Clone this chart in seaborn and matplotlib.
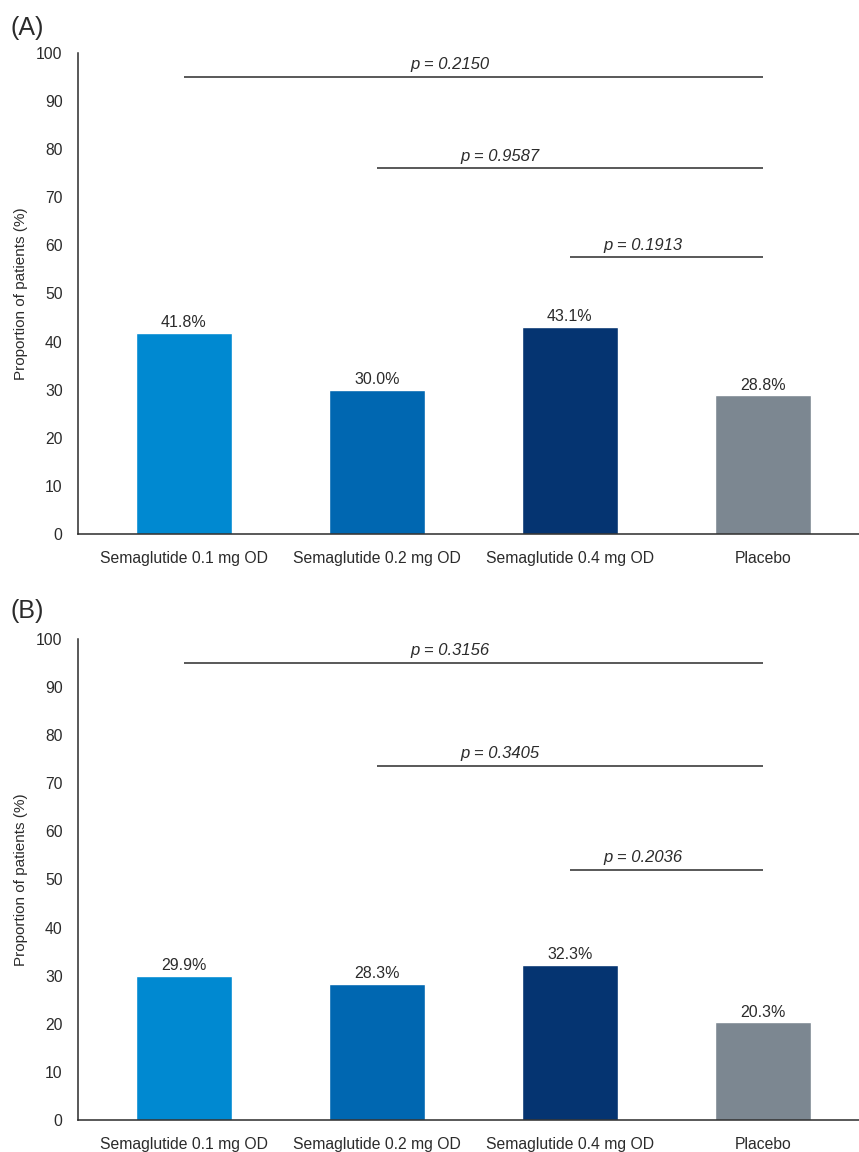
import matplotlib
matplotlib.use("Agg")
import matplotlib.pyplot as plt
import seaborn as sns

# Treatment arms and responder proportions (%)
categories = ["Semaglutide 0.1 mg OD", "Semaglutide 0.2 mg OD",
              "Semaglutide 0.4 mg OD", "Placebo"]
values_a = [41.8, 30.0, 43.1, 28.8]
values_b = [29.9, 28.3, 32.3, 20.3]

# Pairwise comparisons vs placebo: (start arm index, bracket height, p-value)
pvals_a = [(0, 95.0, "0.2150"), (1, 76.0, "0.9587"), (2, 57.5, "0.1913")]
pvals_b = [(0, 95.0, "0.3156"), (1, 73.6, "0.3405"), (2, 52.0, "0.2036")]

panel_labels = ["(A)", "(B)"]
bar_colors = ["#0089D1", "#0067B1", "#053471", "#7C8791"]
y_ticks = list(range(0, 101, 10))

# horizontal centre of each p-value caption, in category units
p_text_x = [1.38, 1.64, 2.38]

sns.set_style("white")
plt.rcParams["font.family"] = ["Liberation Sans", "DejaVu Sans"]

fig = plt.figure(figsize=(8.59, 11.52), dpi=100)
axes_pos = [[0.0908, 0.5365, 0.9092, 0.4175],
            [0.0908, 0.0278, 0.9092, 0.4175]]
label_y = [0.976, 0.470]

ink = "#2b2b2b"

for pos, vals, pvals, lab, ly in zip(axes_pos, [values_a, values_b],
                                     [pvals_a, pvals_b], panel_labels, label_y):
    ax = fig.add_axes(pos)
    sns.barplot(x=categories, y=vals, hue=categories, palette=bar_colors,
                legend=False, width=0.5, saturation=1, ax=ax)

    for cont, v in zip(ax.containers, vals):
        ax.bar_label(cont, labels=[f"{v:.1f}%"], padding=2, fontsize=11.5,
                     color=ink)

    for (start, h, p), tx in zip(pvals, p_text_x):
        ax.plot([start, 3], [h, h], color=ink, lw=1.1, solid_capstyle="butt")
        ax.text(tx, h + 1.6, f"p = {p}", ha="center", va="baseline",
                fontsize=12, style="italic", color=ink)

    ax.set_xlim(-0.549, 3.498)
    ax.set_ylim(0, 100)
    ax.set_yticks(y_ticks)
    ax.set_ylabel("Proportion of patients (%)", fontsize=11, color=ink)
    ax.yaxis.set_label_coords(-0.064, 0.5)
    ax.set_xlabel("")

    sns.despine(ax=ax, top=True, right=True)
    for side in ["left", "bottom"]:
        ax.spines[side].set_color(ink)
        ax.spines[side].set_linewidth(1.1)
    ax.tick_params(axis="both", direction="out", length=6, width=1.1,
                   color=ink, labelcolor=ink)
    ax.tick_params(axis="x", labelsize=11.3, pad=6)
    ax.tick_params(axis="y", labelsize=11.3, pad=5)
    ax.set_facecolor("white")

    fig.text(0.012, ly, lab, fontsize=18, color=ink, ha="left", va="center")

fig.savefig("out.png", dpi=100, facecolor="white")
